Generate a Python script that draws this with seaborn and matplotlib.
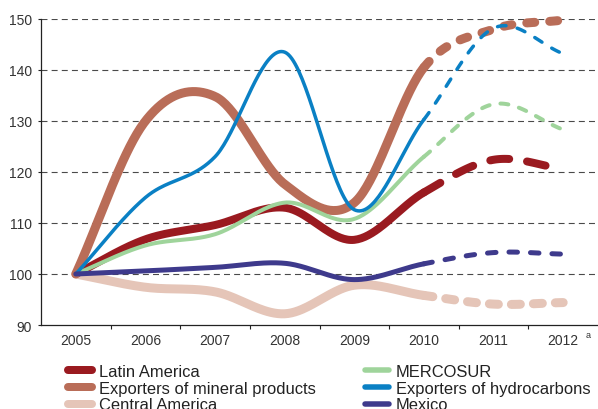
import numpy as np
import pandas as pd
import matplotlib
matplotlib.use("Agg")
import matplotlib.pyplot as plt
import seaborn as sns
from matplotlib.lines import Line2D

# Index values, 2005 = 100 (2010-2012 are projections)
years = ["2005", "2006", "2007", "2008", "2009", "2010", "2011", "2012"]
latin_america = [100, 106.8, 109.6, 113.0, 106.7, 116.0, 122.4, 120.6]
mineral = [100, 130.0, 134.8, 117.6, 114.0, 140.5, 148.0, 149.8]
central_america = [100, 97.4, 96.5, 92.2, 97.8, 95.8, 94.1, 94.4]
mercosur = [100, 105.6, 107.8, 114.0, 110.8, 123.0, 133.3, 128.3]
hydrocarbons = [100, 115.0, 123.0, 143.5, 112.6, 130.3, 148.2, 143.2]
mexico = [100, 100.6, 101.3, 102.1, 98.9, 102.0, 104.2, 103.9]

sns.set_theme(style="white")
plt.rcParams["font.family"] = ["Liberation Sans", "DejaVu Sans"]
plt.rcParams["lines.scale_dashes"] = False

fig = plt.figure(figsize=(5.98, 4.10), dpi=100)
ax = fig.add_axes([41 / 598, 1 - 326 / 410, 557 / 598, 306 / 410])

PX = 0.72  # points per pixel at 100 dpi


def smooth(values, n=40):
    """Catmull-Rom curve through yearly values."""
    y = np.asarray(values, dtype=float)
    k = len(y)
    m = np.empty(k)
    m[1:-1] = (y[2:] - y[:-2]) / 2
    m[0] = y[1] - y[0]
    m[-1] = y[-1] - y[-2]
    xs, ys = [], []
    for i in range(k - 1):
        t = np.linspace(0, 1, n, endpoint=(i == k - 2))
        h00 = 2 * t**3 - 3 * t**2 + 1
        h10 = t**3 - 2 * t**2 + t
        h01 = -2 * t**3 + 3 * t**2
        h11 = t**3 - t**2
        xs.append(i + t)
        ys.append(h00 * y[i] + h10 * m[i] + h01 * y[i + 1] + h11 * m[i + 1])
    return np.concatenate(xs), np.concatenate(ys)


series = [
    ("Central America", central_america, "#e5c5b8", 9, (9, 13)),
    ("Latin America", latin_america, "#9a1a20", 8, (19, 18)),
    ("Exporters of mineral products", mineral, "#b96d58", 9, (8, 15)),
    ("MERCOSUR", mercosur, "#9fd49b", 4, (8, 11)),
    ("Exporters of hydrocarbons", hydrocarbons, "#0a80c4", 3.5, (8.5, 11.5)),
    ("Mexico", mexico, "#3e3a8c", 5, (8.5, 13)),
]

split = years.index("2010")
for name, vals, color, lw, dash in series:
    xs, ys = smooth(vals)
    solid = xs <= split
    proj = xs >= split
    df_s = pd.DataFrame({"x": xs[solid], "y": ys[solid]})
    df_p = pd.DataFrame({"x": xs[proj], "y": ys[proj]})
    sns.lineplot(data=df_s, x="x", y="y", ax=ax, color=color, linewidth=lw * PX,
                 estimator=None, sort=False, solid_capstyle="round", clip_on=False)
    sns.lineplot(data=df_p, x="x", y="y", ax=ax, color=color, linewidth=lw * PX,
                 estimator=None, sort=False, dash_capstyle="round", clip_on=False,
                 linestyle=(0, (dash[0] * PX, dash[1] * PX)))

ax.set_xlim(-0.5, len(years) - 0.5)
ax.set_ylim(90, 150)
ax.set_xlabel("")
ax.set_ylabel("")

# gridlines
for v in range(100, 151, 10):
    ax.axhline(v, color="#4a4a4a", linewidth=0.8, linestyle=(0, (4.3, 3.0)), zorder=0)

ax.set_xticks(range(len(years)))
ax.set_xticklabels(years)
ax.set_xticks(np.arange(0.5, len(years) - 0.5, 1), minor=True)
ax.tick_params(axis="x", which="major", length=0, pad=5.5, labelsize=10, labelcolor="#333333")
ax.tick_params(axis="x", which="minor", length=3, width=0.8, color="#222222", direction="out")
ax.set_yticks(range(90, 151, 10))
ax.tick_params(axis="y", length=2.5, width=0.8, pad=4, labelsize=10, labelcolor="#333333",
               color="#222222", direction="out", left=True)
ax.tick_params(axis="x", which="both", bottom=True)

# footnote marker on the last (projected) year
ax.annotate("a", xy=(len(years) - 1, 0), xycoords=ax.get_xaxis_transform(),
            xytext=(16, -6.5), textcoords="offset points", fontsize=6.5,
            color="#333333", ha="left", va="center")

for s in ["top", "right"]:
    ax.spines[s].set_visible(False)
for s in ["left", "bottom"]:
    ax.spines[s].set_color("#222222")
    ax.spines[s].set_linewidth(0.9)

order = ["Latin America", "Exporters of mineral products", "Central America",
         "MERCOSUR", "Exporters of hydrocarbons", "Mexico"]
style = {name: (color, lw) for name, _, color, lw, _ in series}
legend_lw = {"Latin America": 8, "Exporters of mineral products": 8, "Central America": 8,
             "MERCOSUR": 5.5, "Exporters of hydrocarbons": 5.5, "Mexico": 5.5}
handles = [Line2D([], [], color=style[n][0], linewidth=legend_lw[n] * PX,
                  solid_capstyle="round") for n in order]
fig.legend(handles, order, loc="upper left", bbox_to_anchor=(68 / 598, 1 - 365 / 410),
           ncol=2, frameon=False, fontsize=11.9, handlelength=1.45, handletextpad=0.4,
           columnspacing=3.0, labelspacing=0.1, borderpad=0, borderaxespad=0,
           labelcolor="#222222")

fig.savefig("out.png", dpi=100)
